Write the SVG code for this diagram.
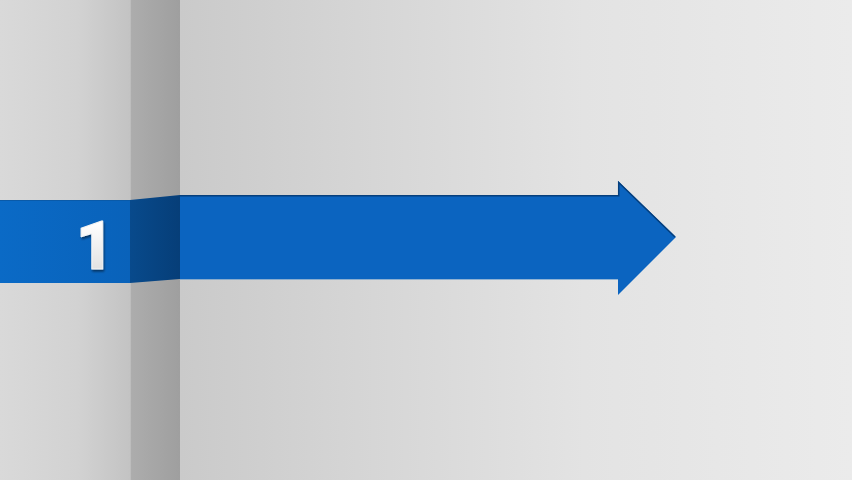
<svg xmlns="http://www.w3.org/2000/svg" width="852" height="480" viewBox="0 0 852 480">
  <defs>
    <linearGradient id="bgRight" x1="180" y1="0" x2="852" y2="0" gradientUnits="userSpaceOnUse">
      <stop offset="0" stop-color="#cacaca"/>
      <stop offset="0.6" stop-color="#e3e3e3"/>
      <stop offset="1" stop-color="#ebebeb"/>
    </linearGradient>
    <linearGradient id="bgLeft" x1="0" y1="0" x2="130" y2="0" gradientUnits="userSpaceOnUse">
      <stop offset="0" stop-color="#d9d9d9"/>
      <stop offset="0.6" stop-color="#d2d2d2"/>
      <stop offset="1" stop-color="#c3c3c3"/>
    </linearGradient>
    <linearGradient id="strip" x1="130" y1="0" x2="180" y2="0" gradientUnits="userSpaceOnUse">
      <stop offset="0" stop-color="#adadad"/>
      <stop offset="1" stop-color="#9f9f9f"/>
    </linearGradient>
    <linearGradient id="blueL" x1="0" y1="0" x2="130" y2="0" gradientUnits="userSpaceOnUse">
      <stop offset="0" stop-color="#0a6ac6"/>
      <stop offset="1" stop-color="#0962ba"/>
    </linearGradient>
    <linearGradient id="blueFold" x1="130" y1="0" x2="180" y2="0" gradientUnits="userSpaceOnUse">
      <stop offset="0" stop-color="#084a8c"/>
      <stop offset="1" stop-color="#063e78"/>
    </linearGradient>
    <linearGradient id="digit" x1="0" y1="222" x2="0" y2="270" gradientUnits="userSpaceOnUse">
      <stop offset="0" stop-color="#ffffff"/>
      <stop offset="1" stop-color="#e2e2e2"/>
    </linearGradient>
    <filter id="shadow" x="-20%" y="-20%" width="140%" height="140%">
      <feGaussianBlur in="SourceAlpha" stdDeviation="1.2"/>
      <feOffset dx="1" dy="2" result="b"/>
      <feComponentTransfer><feFuncA type="linear" slope="0.5"/></feComponentTransfer>
      <feMerge><feMergeNode/><feMergeNode in="SourceGraphic"/></feMerge>
    </filter>
  </defs>
  <style>
    .edge { fill: none; stroke: #063f7c; stroke-width: 1.5; }
    .edgeLight { fill: none; stroke: #5c95cc; stroke-width: 1; opacity: 0.6; }
    .num { font-family: Roboto, "Liberation Sans", Arial, sans-serif; font-weight: 900; font-size: 66px; stroke: #f4f4f4; stroke-width: 1; stroke-linejoin: round; }
  </style>

  <g id="background">
    <rect x="0" y="0" width="852" height="480" fill="url(#bgRight)"/>
    <rect x="0" y="0" width="130" height="480" fill="url(#bgLeft)"/>
    <rect x="130" y="0" width="50" height="480" fill="url(#strip)"/>
    <line x1="130.5" y1="0" x2="130.5" y2="480" stroke="#bdbdbd" stroke-width="1"/>
  </g>

  <g id="band-left">
    <rect x="0" y="200" width="130" height="83" fill="url(#blueL)"/>
    <line x1="0" y1="200.5" x2="130" y2="200.5" stroke="#0a5aa8" stroke-width="1"/>
  </g>

  <g id="band-fold">
    <polygon points="130,200 180,195 180,279 130,283" fill="url(#blueFold)"/>
  </g>

  <g id="arrow">
    <polygon points="180,195 618,195 618,181 676,237 618,295 618,279 180,279" fill="#0b64c0"/>
    <polyline class="edge" points="180,195.7 618.7,195.7 618.7,182.5 675,237"/>
    <polyline class="edgeLight" points="180,279.5 618,279.5"/>
  </g>

  <g id="label-1">
    <text class="num" x="95" y="269" text-anchor="middle" fill="url(#digit)" filter="url(#shadow)">1</text>
  </g>
</svg>
